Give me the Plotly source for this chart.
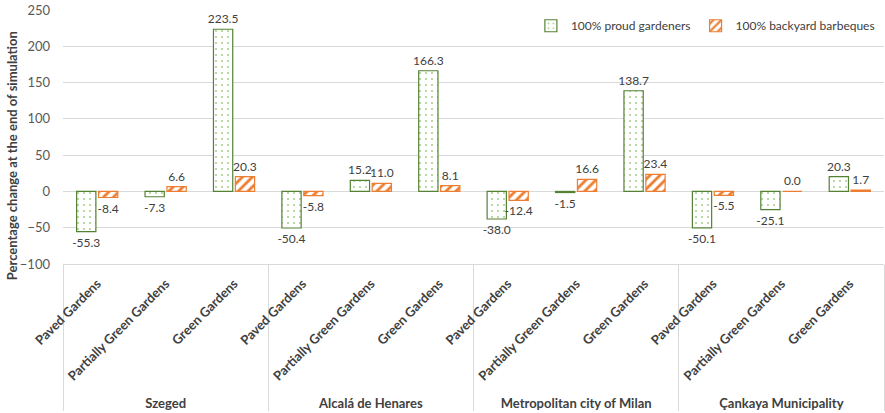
import plotly.graph_objects as go

regions = ["Szeged", "Alcalá de Henares", "Metropolitan city of Milan", "Çankaya Municipality"]
garden_types = ["Paved Gardens", "Partially Green Gardens", "Green Gardens"]
series_names = ["100% proud gardeners", "100% backyard barbeques"]

proud_gardeners = [-55.3, -7.3, 223.5, -50.4, 15.2, 166.3, -38.0, -1.5, 138.7, -50.1, -25.1, 20.3]
backyard_barbeques = [-8.4, 6.6, 20.3, -5.8, 11.0, 8.1, -12.4, 16.6, 23.4, -5.5, 0.0, 1.7]

y_ticks = [-100, -50, 0, 50, 100, 150, 200, 250]
y_title = "Percentage change at the end of simulation"

outer = [r for r in regions for _ in garden_types]
inner = [g for _ in regions for g in garden_types]

GREEN = "#548235"
ORANGE = "#ED7D31"
FONT = "Lato"
TXT = "#404040"

fig = go.Figure()
fig.add_trace(go.Bar(
    x=[outer, inner], y=proud_gardeners, name=series_names[0],
    marker=dict(color="white", line=dict(color=GREEN, width=1.2),
                pattern=dict(shape=".", fgcolor="#A9D08E", bgcolor="white", size=6, solidity=0.1, fillmode="replace")),
    texttemplate="%{y:.1f}", textposition="outside", cliponaxis=False, constraintext="none",
    textfont=dict(family=FONT, size=12, color=TXT),
))
fig.add_trace(go.Bar(
    x=[outer, inner], y=backyard_barbeques, name=series_names[1],
    marker=dict(color="white", line=dict(color=ORANGE, width=1.2),
                pattern=dict(shape="/", fgcolor=ORANGE, bgcolor="white", size=7, solidity=0.4, fillmode="replace")),
    texttemplate="%{y:.1f}", textposition="outside", cliponaxis=False, constraintext="none",
    textfont=dict(family=FONT, size=12, color=TXT),
))

fig.update_layout(
    width=885, height=413,
    margin=dict(l=63, r=1, t=10, b=149),
    paper_bgcolor="white", plot_bgcolor="white",
    barmode="group", bargap=0.36, bargroupgap=0.12,
    font=dict(family=FONT, color=TXT),
    legend=dict(orientation="h", x=0.995, xanchor="right", y=0.995, yanchor="top",
                font=dict(family=FONT, size=12, color=TXT), bgcolor="rgba(0,0,0,0)",
                itemwidth=30, traceorder="normal"),
    annotations=[dict(text="<b>" + y_title + "</b>", textangle=-90, xref="paper", yref="paper",
                      x=-0.062, y=0.425, xanchor="center", yanchor="middle", showarrow=False,
                      font=dict(family=FONT, size=13, color=TXT))],
)
fig.update_yaxes(
    range=[-100, 250], tickvals=y_ticks, showgrid=True, gridcolor="#D9D9D9", gridwidth=1,
    zeroline=True, zerolinecolor="#D9D9D9", zerolinewidth=1, automargin=False,
    tickfont=dict(family=FONT, size=13, color="#595959"), ticks="", showline=False,
    ticklabelstandoff=12,
)
fig.update_xaxes(
    type="multicategory", tickangle=-45, showline=True, linecolor="#D9D9D9",
    showdividers=True, dividercolor="#D9D9D9", dividerwidth=1, automargin=False,
    tickfont=dict(family=FONT, size=13, color=TXT, weight="bold"),
    ticks="", ticklabelstandoff=6,
)

fig.write_html("out.html", config={"displayModeBar": False},
               post_script="document.body.style.margin='0';")
